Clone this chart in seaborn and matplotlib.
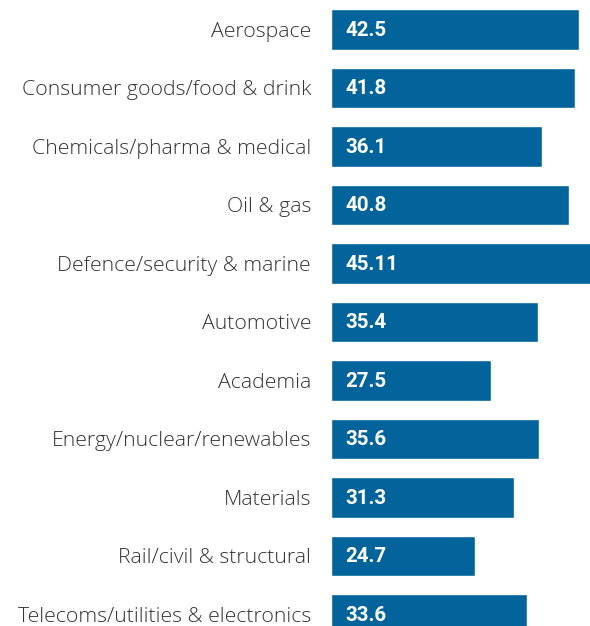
import matplotlib
matplotlib.use("Agg")
import matplotlib.pyplot as plt
import seaborn as sns
import pandas as pd

sectors = [
    "Aerospace",
    "Consumer goods/food & drink",
    "Chemicals/pharma & medical",
    "Oil & gas",
    "Defence/security & marine",
    "Automotive",
    "Academia",
    "Energy/nuclear/renewables",
    "Materials",
    "Rail/civil & structural",
    "Telecoms/utilities & electronics",
]
scores = [42.5, 41.8, 36.1, 40.8, 45.11, 35.4, 27.5, 35.6, 31.3, 24.7, 33.6]
score_labels = ["42.5", "41.8", "36.1", "40.8", "45.11", "35.4", "27.5", "35.6", "31.3", "24.7", "33.6"]

df = pd.DataFrame({"sector": sectors, "score": scores})

sns.set_theme(style="white")
plt.rcParams["font.family"] = ["Open Sans", "DejaVu Sans"]

W, H = 590, 626
fig = plt.figure(figsize=(W / 100, H / 100), dpi=100)
ax = fig.add_axes([331 / W, 0, (W - 331) / W, 1])

sns.barplot(data=df, x="score", y="sector", orient="h", color="#02649B",
            saturation=1, width=0.70, ax=ax)

ax.set_xlim(0, (W - 331) / 5.835)
ax.set_ylim(10.197, -0.504)
sns.despine(ax=ax, left=True, bottom=True)
ax.set_xticks([])
ax.set_xlabel("")
ax.set_ylabel("")
ax.tick_params(axis="y", length=0, pad=14.4)
for t in ax.get_yticklabels():
    t.set_fontsize(15.3)
    t.set_color("#333333")
    t.set_fontweight("light")

for i, lab in enumerate(score_labels):
    ax.annotate(lab, xy=(0, i), xytext=(10.5, -0.6), textcoords="offset points",
                va="center", ha="left", color="white", fontsize=14.8,
                fontweight="bold", family=["Roboto", "DejaVu Sans"])

fig.savefig("out.png", dpi=100)
